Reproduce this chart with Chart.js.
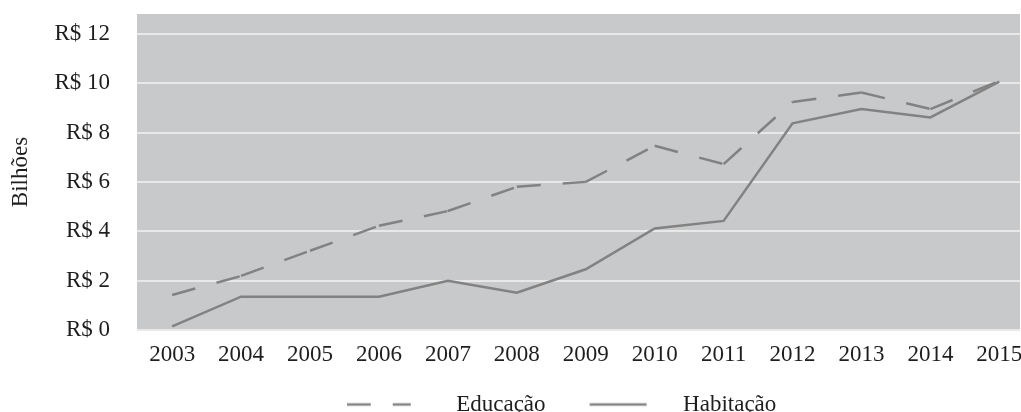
<!DOCTYPE html>
<html>
<head>
<meta charset="utf-8">
<script src="https://cdn.jsdelivr.net/npm/chart.js@4"></script>
<style>
html,body{margin:0;padding:0;background:#ffffff;}
#wrap{width:1021px;height:412px;position:relative;}
</style>
</head>
<body>
<div id="wrap"><canvas id="c"></canvas></div>
<script>
// ---- data ----
const years = [2003, 2004, 2005, 2006, 2007, 2008, 2009, 2010, 2011, 2012, 2013, 2014, 2015];
const yearLabels = ['2003', '2004', '2005', '2006', '2007', '2008', '2009', '2010', '2011', '2012', '2013', '2014', '2015'];
const educacao = [1.42, 2.19, 3.21, 4.22, 4.82, 5.80, 6.00, 7.46, 6.72, 9.24, 9.62, 8.95, 10.09];
const habitacao = [0.15, 1.35, 1.35, 1.35, 1.99, 1.51, 2.46, 4.11, 4.42, 8.37, 8.95, 8.61, 10.06];
const yTickValues = [0, 2, 4, 6, 8, 10, 12];
const yTickLabels = ['R$ 0', 'R$ 2', 'R$ 4', 'R$ 6', 'R$ 8', 'R$ 10', 'R$ 12'];
const seriesNames = ['Educação', 'Habitação'];
const yTitle = 'Bilhões';

// ---- style ----
const LINE = '#828282';
const TEXT = '#1e1e1e';
const FONT = "'Liberation Serif', 'Times New Roman', serif";
const FSIZE = 23;
const DASH = [24, 22];

function legendImg(dash, x0, len) {
  const c = document.createElement('canvas');
  c.width = 98; c.height = 8;
  const g = c.getContext('2d');
  g.strokeStyle = LINE; g.lineWidth = 2.5; g.lineCap = 'butt';
  g.setLineDash(dash);
  g.beginPath(); g.moveTo(x0, 4); g.lineTo(x0 + len, 4); g.stroke();
  return c;
}
const legendImgs = [legendImg(DASH, 0, 64), legendImg([], 16, 57)];

const plotBg = {
  id: 'plotBg',
  beforeDraw(chart) {
    const {ctx, chartArea: a} = chart;
    ctx.save();
    ctx.fillStyle = '#c8c9cb';
    ctx.fillRect(a.left, a.top, a.right - a.left, a.bottom - a.top);
    ctx.restore();
  }
};

const legendShift = {
  id: 'legendShift',
  afterLayout(chart) {
    if (chart.legend) { chart.legend.left -= 17; chart.legend.right -= 17; }
  }
};

new Chart(document.getElementById('c'), {
  type: 'line',
  data: {
    datasets: [
      {
        label: seriesNames[0],
        data: years.map((x, i) => ({x: x, y: educacao[i]})),
        borderColor: LINE,
        backgroundColor: LINE,
        borderWidth: 2.5,
        borderDash: DASH,
        pointRadius: 0,
        tension: 0,
        segment: {
          borderDashOffset: c => (c.p0DataIndex % 2 ? 0.001 : 0)
        }
      },
      {
        label: seriesNames[1],
        data: years.map((x, i) => ({x: x, y: habitacao[i]})),
        borderColor: LINE,
        backgroundColor: LINE,
        borderWidth: 2.5,
        pointRadius: 0,
        tension: 0
      }
    ]
  },
  options: {
    responsive: true,
    maintainAspectRatio: false,
    animation: false,
    layout: {padding: {left: 3, right: 1, top: 14, bottom: -14}},
    scales: {
      x: {
        type: 'linear',
        min: 2002.49,
        max: 2015.3,
        afterBuildTicks: s => { s.ticks = years.map(v => ({value: v})); },
        afterFit: s => { s.height = 35; s.paddingLeft = 0; s.paddingRight = 0; },
        grid: {display: false, drawTicks: false},
        border: {display: false},
        ticks: {
          padding: 11,
          color: TEXT,
          font: {family: FONT, size: FSIZE},
          maxRotation: 0,
          autoSkip: false,
          callback: v => yearLabels[years.indexOf(v)]
        }
      },
      y: {
        min: 0,
        max: 12.8,
        afterBuildTicks: s => { s.ticks = yTickValues.map(v => ({value: v})); },
        afterFit: s => { s.width = 134; s.paddingTop = 0; s.paddingBottom = 0; },
        grid: {color: '#e8e8e9', lineWidth: 2, drawTicks: false},
        border: {display: false},
        ticks: {
          padding: 27,
          color: TEXT,
          font: {family: FONT, size: FSIZE},
          callback: v => yTickLabels[yTickValues.indexOf(v)]
        },
        title: {
          display: true,
          text: yTitle,
          color: TEXT,
          font: {family: FONT, size: FSIZE},
          padding: {top: 4, bottom: 24}
        }
      }
    },
    plugins: {
      legend: {
        position: 'bottom',
        fullSize: false,
        labels: {
          usePointStyle: true,
          pointStyleWidth: 98,
          padding: 28,
          color: TEXT,
          font: {family: FONT, size: FSIZE},
          generateLabels(chart) {
            const items = Chart.defaults.plugins.legend.labels.generateLabels(chart);
            items.forEach((it, i) => { it.pointStyle = legendImgs[i]; });
            return items;
          }
        }
      },
      tooltip: {enabled: false}
    }
  },
  plugins: [plotBg, legendShift]
});
</script>
</body>
</html>
